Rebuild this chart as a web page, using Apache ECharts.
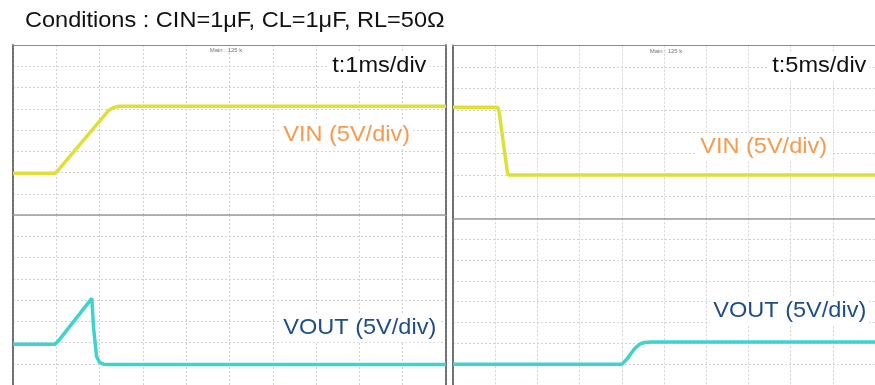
<!DOCTYPE html>
<html>
<head>
<meta charset="utf-8">
<script src="https://cdn.jsdelivr.net/npm/echarts@6/dist/echarts.min.js"></script>
<style>
html,body{margin:0;padding:0;background:#fff;}
#c{width:875px;height:385px;}
</style>
</head>
<body>
<div id="c"></div>
<script>
// ---- data (time in ms, voltage in V; 5 V/div) ----
const titleText = 'Conditions : CIN=1μF, CL=1μF, RL=50Ω';
const leftTimebase = 't:1ms/div';
const rightTimebase = 't:5ms/div';
const vinLabel = 'VIN (5V/div)';
const voutLabel = 'VOUT (5V/div)';
const scopeInfo = 'Main : 125 k';

const leftTime = [0, 10];     // ms, 1 ms/div
const rightTime = [0, 50];    // ms, 5 ms/div
const voltRange = [-5, 35];   // V, 8 div of 5 V

const vinLeft = [[0,4.8],[0.97,4.8],[1.05,5.6],[2.2,19.5],[2.3,20.2],[2.45,20.6],[10,20.6]];
const voutLeft = [[0,4.6],[0.97,4.6],[1.05,5.4],[1.82,15.4],[1.86,8.5],[1.93,1.7],[2.0,0.3],[2.09,-0.1],[2.3,-0.2],[10,-0.2]];
const vinRight = [[0,20.7],[5.3,20.7],[5.45,19.8],[6.45,5.6],[6.6,5.0],[50,5.0]];
const voutRight = [[0,0],[20.0,0],[20.6,1.2],[21.55,3.8],[22.2,4.9],[22.7,5.2],[23.5,5.3],[50,5.3]];

const YELLOW = '#e0df36';
const CYAN = '#3fd3cf';
const ORANGE = '#f79a4e';
const NAVY = '#1f4e85';
const GRIDC = '#d2d2d2';

const chart = echarts.init(document.getElementById('c'), null, {renderer:'canvas'});

function xAx(grid, range, step, topLine){
  return {
    type:'value', gridIndex:grid, min:range[0], max:range[1], interval:step,
    position:'top',
    axisLine:{show:true, onZero:false, lineStyle:{color: topLine, width: topLine==='#8c8c8c'?1.2:1.6}},
    axisTick:{show:false}, axisLabel:{show:false},
    splitLine:{show:true, lineStyle:{color:GRIDC, width:1, type:[2,2]}}
  };
}
function yAx(grid, pos, split){
  return {
    type:'value', gridIndex:grid, min:voltRange[0], max:voltRange[1], interval:5,
    position:pos,
    axisLine:{show:true, onZero:false, lineStyle:{color:'#6f6f6f', width:2, type:[3,1]}},
    axisTick:{show:false}, axisLabel:{show:false},
    splitLine:{show:split, lineStyle:{color:GRIDC, width:1, type:[2,2]}}
  };
}
function lbl(text, x, yMid, color, size, scale){
  return {
    type:'text', x:x, y:yMid, scaleX:scale||1.07, z:50,
    style:{
      text:text, fill:color, font:(size||22)+'px "Liberation Sans", Arial, sans-serif',
      verticalAlign:'middle', align:'left',
      backgroundColor:'#ffffff', padding:[3,3,3,3]
    }
  };
}
function trace(data, color, idx){
  return {
    type:'line', data:data, xAxisIndex:idx, yAxisIndex:idx,
    showSymbol:false, symbol:'none', smooth:false, animation:false,
    lineStyle:{color:color, width:3.5}, z:10, clip:true
  };
}

chart.setOption({
  animation:false,
  backgroundColor:'#ffffff',
  grid:[
    {left:13, top:45, width:433, height:170},
    {left:13, top:215, width:433, height:170},
    {left:453, top:45.5, width:433, height:172.8},
    {left:453, top:218.3, width:433, height:173}
  ],
  xAxis:[
    xAx(0, leftTime, 1, '#8c8c8c'),
    xAx(1, leftTime, 1, '#9a9a9a'),
    xAx(2, rightTime, 5, '#8c8c8c'),
    xAx(3, rightTime, 5, '#9a9a9a')
  ],
  yAxis:[
    yAx(0,'left',true), yAx(1,'left',true), yAx(2,'left',true), yAx(3,'left',true),
    yAx(0,'right',false), yAx(1,'right',false)
  ],
  series:[
    trace(vinLeft, YELLOW, 0),
    trace(voutLeft, CYAN, 1),
    trace(vinRight, YELLOW, 2),
    trace(voutRight, CYAN, 3)
  ],
  graphic:[
    {type:'text', x:25, y:20.5, scaleX:1.07, style:{text:titleText, fill:'#111', font:'22px "Liberation Sans", Arial, sans-serif', verticalAlign:'middle'}},
    lbl(leftTimebase, 329, 66, '#111'),
    lbl(rightTimebase, 769, 66, '#111'),
    lbl(vinLabel, 280, 134.7, ORANGE),
    lbl(vinLabel, 697, 147.2, ORANGE),
    lbl(voutLabel, 280, 328.3, NAVY),
    lbl(voutLabel, 710, 311.2, NAVY),
    {type:'text', x:226, y:50, z:50, style:{text:scopeInfo, fill:'#777', font:'6px "Liberation Sans", Arial, sans-serif', align:'center', verticalAlign:'middle'}},
    {type:'text', x:666, y:51, z:50, style:{text:scopeInfo, fill:'#777', font:'6px "Liberation Sans", Arial, sans-serif', align:'center', verticalAlign:'middle'}}
  ]
});
</script>
</body>
</html>
